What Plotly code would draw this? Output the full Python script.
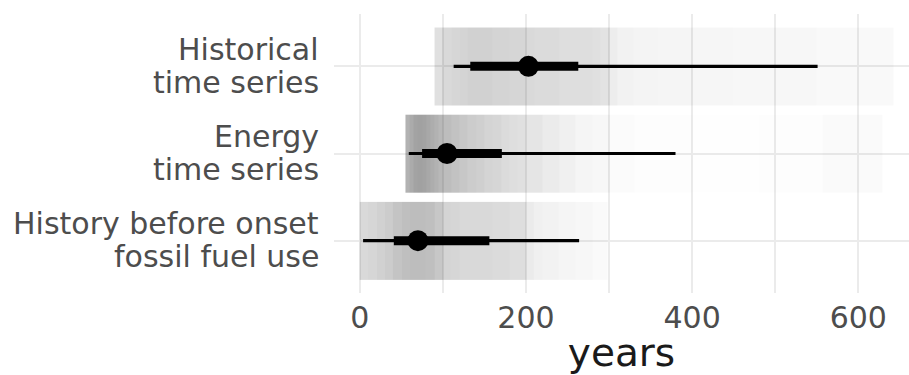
import plotly.graph_objects as go

# ---- data ----
row_labels = [["Historical", "time series"],
              ["Energy", "time series"],
              ["History before onset", "fossil fuel use"]]
row_pos = [3, 2, 1]

medians = [203, 105, 70]
thick_lo = [133, 75, 41]
thick_hi = [263, 171, 156]
thin_lo = [113, 59, 4]
thin_hi = [551, 380, 264]

# gradient (density shading) per row: bin edges (years) and shade per bin
hist_edges = [90, 100, 110, 120, 130, 140, 150, 160, 170, 180, 190, 200, 210, 220, 230,
              240, 250, 260, 270, 280, 290, 300, 310, 330, 360, 400, 450, 500, 550, 600, 642]
hist_shade = [0.12, 0.15, 0.16, 0.17, 0.18, 0.18, 0.18, 0.17, 0.17, 0.16, 0.16, 0.15, 0.14,
              0.14, 0.14, 0.13, 0.13, 0.13, 0.13, 0.12, 0.11, 0.07, 0.05, 0.045, 0.04, 0.035,
              0.03, 0.03, 0.025, 0.025]

energy_edges = [55, 60, 65, 70, 75, 80, 85, 90, 95, 100, 110, 120, 130, 140, 150, 160, 170,
                180, 190, 200, 220, 240, 260, 280, 300, 330, 400, 480, 557, 629]
energy_shade = [0.30, 0.33, 0.36, 0.37, 0.36, 0.34, 0.32, 0.30, 0.28, 0.26, 0.24, 0.22, 0.20,
                0.19, 0.17, 0.16, 0.14, 0.13, 0.12, 0.10, 0.08, 0.06, 0.04, 0.03, 0.015, 0.006,
                0.004, 0.006, 0.02]

before_edges = [0, 10, 20, 30, 40, 50, 60, 70, 80, 90, 100, 110, 120, 140, 160, 180, 200,
                210, 220, 240, 260, 280, 298]
before_shade = [0.15, 0.16, 0.18, 0.20, 0.23, 0.25, 0.26, 0.26, 0.25, 0.22, 0.17, 0.16, 0.15,
                0.15, 0.14, 0.13, 0.08, 0.06, 0.05, 0.04, 0.03, 0.02]

x_ticks = [0, 200, 400, 600]

# ---- figure ----
fig = go.Figure()
grads = [(hist_edges, hist_shade), (energy_edges, energy_shade), (before_edges, before_shade)]
half_h = 0.445
for (edges, shade), yp in zip(grads, row_pos):
    fig.add_trace(go.Heatmap(
        x=edges, y=[yp - half_h, yp + half_h], z=[shade],
        zmin=0, zmax=1,
        colorscale=[[0, "rgba(0,0,0,0)"], [1, "rgba(0,0,0,1)"]],
        showscale=False, hoverinfo="skip", zsmooth=False))

for i, yp in enumerate(row_pos):
    fig.add_trace(go.Scatter(x=[thin_lo[i], thin_hi[i]], y=[yp, yp], mode="lines",
                             line=dict(color="#000000", width=3.2), showlegend=False))
    fig.add_trace(go.Scatter(x=[thick_lo[i], thick_hi[i]], y=[yp, yp], mode="lines",
                             line=dict(color="#000000", width=9), showlegend=False))
    fig.add_trace(go.Scatter(x=[medians[i]], y=[yp], mode="markers",
                             marker=dict(color="#000000", size=21), showlegend=False))

font_family = "DejaVu Sans"
annotations = []
for lab, yp in zip(row_labels, row_pos):
    for j, line in enumerate(lab):
        annotations.append(dict(
            text=line, xref="paper", yref="y", x=0, y=yp, xanchor="right", yanchor="middle",
            xshift=-13, yshift=17 - 33 * j, showarrow=False,
            font=dict(family=font_family, size=30, color="#4d4d4d")))

fig.update_layout(
    width=909, height=375,
    margin=dict(l=334, r=0, t=14, b=82),
    paper_bgcolor="white", plot_bgcolor="white",
    showlegend=False,
    annotations=annotations,
    xaxis=dict(range=[-31, 661], tickvals=x_ticks, ticktext=[str(v) for v in x_ticks],
               showgrid=True, gridcolor="#ebebeb", gridwidth=2, zeroline=False,
               showline=False, ticks="", ticklabelstandoff=4,
               tickfont=dict(family=font_family, size=30, color="#4d4d4d"),
               minor=dict(dtick=100, tick0=0, showgrid=True, gridcolor="#ebebeb", gridwidth=2),
               title=dict(text="years", font=dict(family=font_family, size=39, color="#1a1a1a"),
                          standoff=2)),
    yaxis=dict(range=[0.4, 3.6], tickvals=row_pos, showticklabels=False,
               showgrid=True, gridcolor="#ebebeb", gridwidth=2, zeroline=False,
               showline=False, ticks=""),
)

fig.write_html("out.html")
